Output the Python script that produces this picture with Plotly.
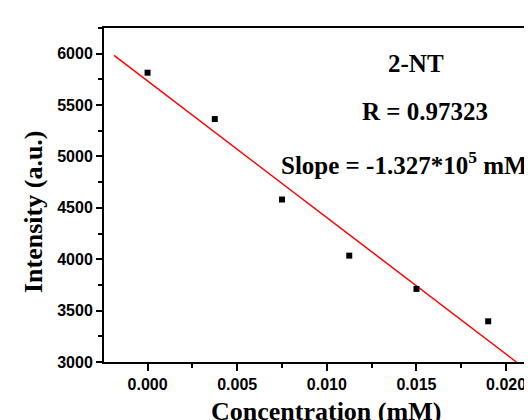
import plotly.graph_objects as go

# Data
conc = [0.0, 0.00375, 0.0075, 0.01125, 0.015, 0.019]
intensity = [5815, 5364, 4581, 4035, 3711, 3396]
fit_x = [-0.00187, 0.02057]
fit_y = [5983, 3000]
x_ticks = [0.0, 0.005, 0.010, 0.015, 0.020]
x_ticklabels = ["0.000", "0.005", "0.010", "0.015", "0.020"]
y_ticks = [3000, 3500, 4000, 4500, 5000, 5500, 6000]

W, H = 532, 420
L, R, T, B = 96, 0, 20, 66
PW, PH = W - L - R, H - T - B

def px(x):
    return (x - L) / PW

def py(y):
    return (H - B - y) / PH

serif = "Liberation Serif, Times New Roman, serif"
sans = "Liberation Sans, Arial, sans-serif"

fig = go.Figure()
fig.add_trace(go.Scatter(x=fit_x, y=fit_y, mode="lines",
                         line=dict(color="#ff0000", width=1.5),
                         showlegend=False, cliponaxis=True))
fig.add_trace(go.Scatter(x=conc, y=intensity, mode="markers",
                         marker=dict(symbol="square", size=6, color="black"),
                         showlegend=False))

fig.update_layout(
    width=W, height=H,
    margin=dict(l=L, r=R, t=T, b=B),
    plot_bgcolor="white", paper_bgcolor="white",
    xaxis=dict(range=[-0.00243, 0.02189], tickvals=x_ticks, ticktext=x_ticklabels,
               showline=True, linecolor="black", linewidth=2, mirror=True,
               ticks="outside", ticklen=7, tickwidth=2, tickcolor="black",
               minor=dict(dtick=0.0025, ticks="outside", ticklen=4, tickwidth=2, tickcolor="black"),
               showgrid=False, zeroline=False,
               tickfont=dict(family=sans, size=16, color="black", weight="bold")),
    yaxis=dict(range=[3000, 6250], tickvals=y_ticks,
               showline=True, linecolor="black", linewidth=2, mirror=False,
               ticks="outside", ticklen=6, tickwidth=2, tickcolor="black",
               minor=dict(dtick=250, ticks="outside", ticklen=4, tickwidth=2, tickcolor="black"),
               showgrid=False, zeroline=False,
               tickfont=dict(family=sans, size=16, color="black", weight="bold")),
)

ann_font = dict(family=serif, size=25, color="black", weight="bold")
fig.add_annotation(text="2-NT", xref="paper", yref="paper", x=px(407.7), y=py(56),
                   xanchor="center", yanchor="middle", showarrow=False, font=ann_font)
fig.add_annotation(text="R = 0.97323", xref="paper", yref="paper", x=px(416.5), y=py(103),
                   xanchor="center", yanchor="middle", showarrow=False, font=ann_font)
fig.add_annotation(text="Slope = -1.327*10<sup>5</sup> mM<sup>-1</sup>", xref="paper", yref="paper",
                   x=px(271), y=py(155), xanchor="left", yanchor="middle", showarrow=False,
                   font=ann_font)
fig.add_annotation(text="Concentration (mM)", xref="paper", yref="paper", x=px(318), y=py(420),
                   xanchor="center", yanchor="bottom", showarrow=False,
                   font=dict(family=serif, size=26, color="black", weight="bold"))
fig.add_annotation(text="Intensity (a.u.)", xref="paper", yref="paper", x=px(25), y=py(204),
                   xanchor="center", yanchor="middle", textangle=-90, showarrow=False,
                   font=dict(family=serif, size=26, color="black", weight="bold"))

fig.write_html("out.html")
